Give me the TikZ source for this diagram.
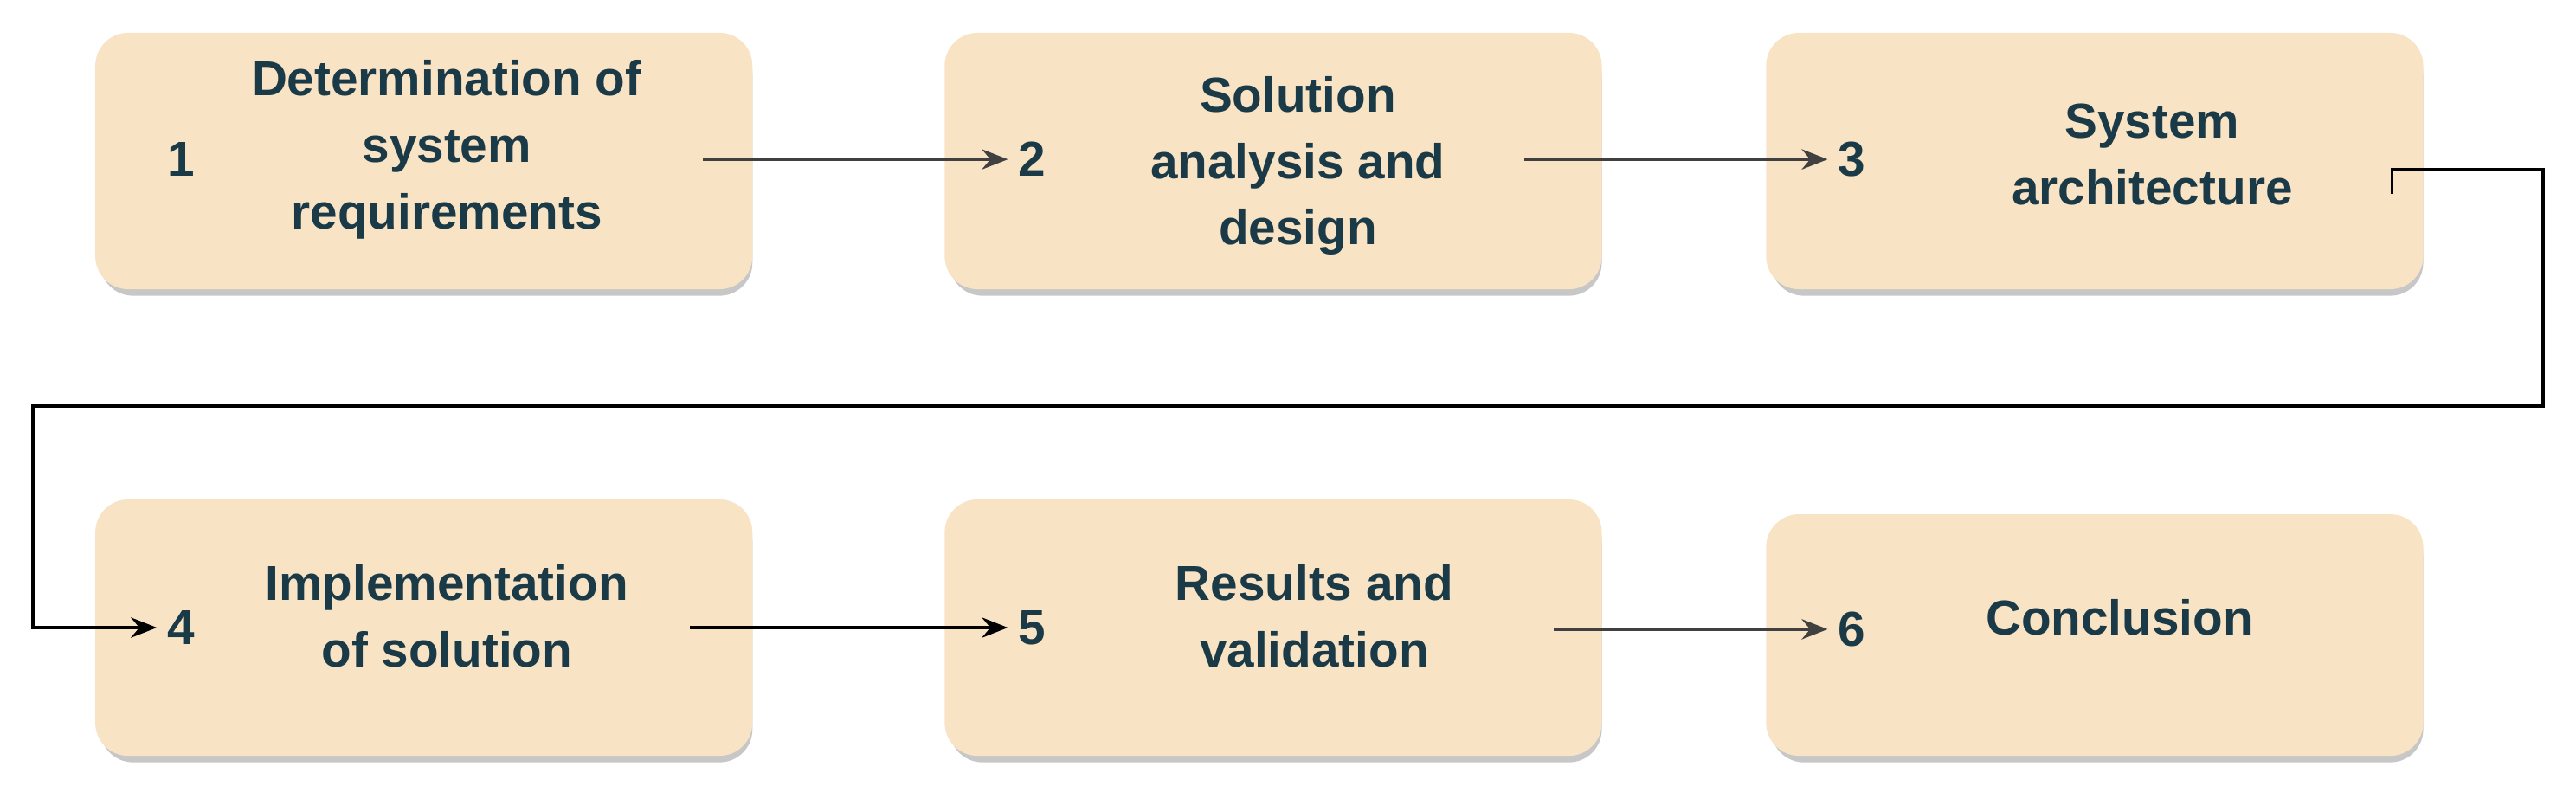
\documentclass[tikz,border=0pt]{standalone}
\usepackage{fontspec}
\setmainfont{Liberation Sans}
\usetikzlibrary{arrows.meta}
\definecolor{boxfill}{HTML}{F9E3C5}
\definecolor{txt}{HTML}{1B3A47}
\begin{document}
\begin{tikzpicture}[x=0.02cm,y=-0.02cm,
  box/.style={fill=boxfill,draw=none,rounded corners=0.4cm},
  shadowbox/.style={fill=black!22,draw=none,rounded corners=0.4cm},
  lbl/.style={text=txt,font=\fontsize{17pt}{23pt}\selectfont\bfseries,align=center},
  conn/.style={draw=black!75,line width=1.1pt,-{Stealth[length=9pt,width=7pt]}}]
\useasboundingbox (0,0) rectangle (1568,486);
\foreach \n/\xa/\ya/\yb in {b1/58/20/176,b2/575/20/176,b3/1075/20/176,b4/58/304/460,b5/575/304/460,b6/1075/313/460}{
  \fill[shadowbox] (\xa+3,\ya+5) rectangle (\xa+400,\yb+4);
  \path[box] (\xa,\ya) rectangle (\xa+400,\yb) node[pos=0.5,inner sep=0] (\n) {};
}
\node[lbl] (n1) at (110,97) {1};
\node[lbl] (t1) at (272,91) {Determination of\\system\\requirements};
\node[lbl] (n2) at (628,97) {2};
\node[lbl] (t2) at (790,101) {Solution\\analysis and\\design};
\node[lbl] (n3) at (1127,97) {3};
\node[lbl] (t3) at (1310,94) {System\\architecture};
\node[lbl] (n4) at (110,382) {4};
\node[lbl] (t4) at (272,375) {Implementation\\of solution};
\node[lbl] (n5) at (628,382) {5};
\node[lbl] (t5) at (800,375) {Results and\\validation};
\node[lbl] (n6) at (1127,383) {6};
\node[lbl] (t6) at (1290,376) {Conclusion};
\coordinate (a1) at (428,97);
\coordinate (a2) at (928,97);
\coordinate (a3) at (1456,118);
\coordinate (a4) at (420,382);
\coordinate (a5) at (946,383);
\draw[conn] (a1) -- (n2.west);
\draw[conn] (a2) -- (n3.west);
\draw[conn,draw=black] (a3) |- (1548,103) |- (20,247) |- (n4.west);
\draw[conn,draw=black] (a4) -- (n5.west);
\draw[conn] (a5) -- (n6.west);
\end{tikzpicture}
\end{document}
